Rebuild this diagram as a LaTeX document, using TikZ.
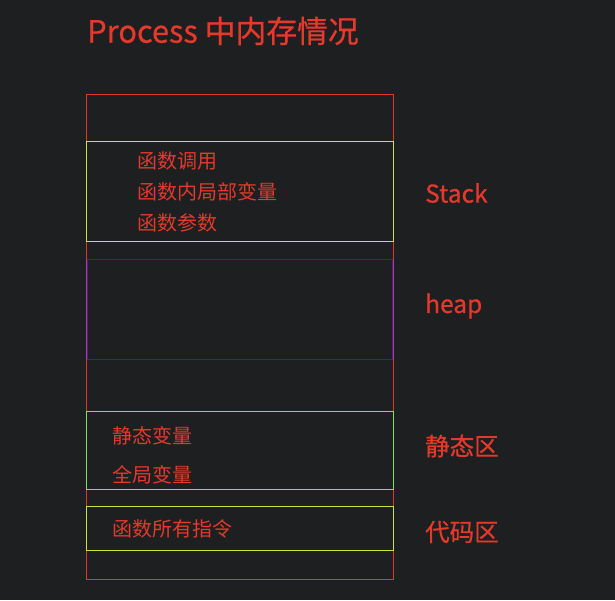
\documentclass[tikz,border=0pt]{standalone}
\usepackage{fontspec}
\setmainfont{Liberation Sans}
\newfontfamily\cjk{Noto Sans CJK SC}
\newfontfamily\cjkb[FakeBold=0.6]{Noto Sans CJK SC}
\definecolor{bg}{HTML}{1E1F21}
\definecolor{txtred}{HTML}{E4392B}
\definecolor{outred}{HTML}{E0392B}
\definecolor{ygreen}{HTML}{C6E63C}
\definecolor{lgreen}{HTML}{80E060}
\definecolor{hblue}{HTML}{1A22E8}
\tikzset{
  region/.style={draw, line width=1pt},
  item/.style={anchor=west, inner sep=0pt, text=txtred, font=\cjk\fontsize{20}{20}\selectfont},
  side/.style={anchor=west, inner sep=0pt, text=txtred, font=\cjkb\fontsize{24.5}{24.5}\selectfont},
}
\begin{document}
\begin{tikzpicture}[x=1pt,y=-1pt]
\fill[bg] (0,0) rectangle (615,600);
\useasboundingbox (0,0) rectangle (615,600);
\node[anchor=west, inner sep=0pt, text=txtred, font=\cjkb\fontsize{30.8}{30.8}\selectfont] (title) at (87,31) {Process 中内存情况};
\draw[region, outred] (86.5,94.5) rectangle (393.5,579.5);
\draw[region, ygreen] (86.5,141.5) rectangle (393.5,241.5);
\draw[region, hblue] (87.5,259.5) rectangle (392.5,359.5);
\draw[region, lgreen] (86.5,411.5) rectangle (393.5,489.5);
\draw[region, ygreen] (86.5,506.5) rectangle (393.5,550.5);
\node[item] (s1) at (137,161) {函数调用};
\node[item] (s2) at (137,192) {函数内局部变量};
\node[item] (s3) at (137,223) {函数参数};
\node[item] (g1) at (112,436) {静态变量};
\node[item] (g2) at (112,475) {全局变量};
\node[item] (c1) at (112,529) {函数所有指令};
\node[side] (lstack) at (425,193) {Stack};
\node[side] (lheap) at (425,306) {heap};
\node[side] (lstatic) at (425,446) {静态区};
\node[side] (lcode) at (425,532) {代码区};
\end{tikzpicture}
\end{document}
